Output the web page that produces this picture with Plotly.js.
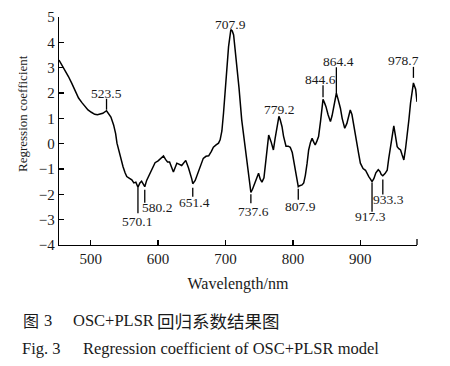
<!DOCTYPE html>
<html>
<head>
<meta charset="utf-8">
<script src="https://cdn.plot.ly/plotly-3.0.1.min.js"></script>
<style>
html,body{margin:0;padding:0;background:#fff;}
#chart{width:450px;height:366px;}
</style>
</head>
<body>
<div id="chart"></div>
<script>
// ---- data ----
var wavelength = [453,457,462,467,472,477,482,487,492,496,501,506,510,514,518,523.5,527,530,534,537,539,543.5,548,551,553.5,557,561,564,567,570.1,573,575.5,578,580.2,583,586,590,595.5,600,605,608,611,614,617,622.7,627.8,631,635,641,645,650,651.4,655,660,667,671,675,679,682,686,689.6,692,694.6,697,699.6,702,704.5,707.9,710,712,714.5,717,720,724,728,732,735,737.6,740,744,746,749,751.5,754,757,759,762,764,767.5,771,773.5,776,779.2,781,783.8,786,789.7,793,796,799,801,804,807.9,810,813.5,816,818.4,821,823.3,826,828.4,831,833,835.5,838,841,844.6,847,849,852,855.6,858,860.5,862.5,864.4,867,870.4,873,876.8,880,883,885,887.5,890,892.5,895,897.5,900,904,907.6,910,912.5,915,917.3,920,923,926.5,929,931,933.3,936.5,939.8,942,944.7,947,949.6,951.5,954.6,957,959.6,962,964.5,967,969.5,972,974.4,976.5,978.7,980,982,984];
var coefficient = [3.30,3.12,2.88,2.65,2.38,2.08,1.80,1.62,1.45,1.33,1.24,1.16,1.14,1.16,1.20,1.30,1.15,1.05,0.74,0.40,0.02,-0.51,-0.91,-1.15,-1.30,-1.36,-1.43,-1.55,-1.52,-1.72,-1.55,-1.48,-1.60,-1.70,-1.45,-1.28,-1.10,-0.75,-0.68,-0.54,-0.48,-0.62,-0.72,-0.72,-1.12,-0.77,-0.80,-0.86,-0.66,-0.95,-1.40,-1.58,-1.45,-1.10,-0.58,-0.50,-0.48,-0.30,-0.14,-0.05,0.02,0.15,0.50,1.20,2.20,3.10,3.83,4.50,4.45,4.29,3.70,3.04,2.20,0.94,0.10,-0.64,-1.30,-1.92,-1.80,-1.50,-1.35,-1.17,-1.40,-1.52,-1.35,-0.90,-0.10,0.34,0.08,-0.25,0.20,0.54,1.08,0.95,0.67,0.30,-0.10,-0.10,-0.14,-0.35,-0.64,-1.20,-1.70,-1.66,-1.63,-1.55,-1.25,-0.77,-0.25,0.05,0.21,0.05,-0.05,0.10,0.28,0.90,1.75,1.60,1.46,1.15,0.87,1.10,1.40,1.70,1.99,1.75,1.40,1.00,0.61,0.80,1.20,1.33,1.15,0.80,0.40,0.02,-0.40,-0.77,-0.98,-1.05,-1.20,-1.30,-1.40,-1.50,-1.38,-1.15,-1.03,-1.10,-1.22,-1.27,-1.18,-1.05,-0.60,-0.15,0.40,0.70,0.40,-0.12,-0.20,-0.25,-0.45,-0.64,-0.20,0.28,0.95,1.60,2.05,2.40,2.30,2.15,1.65];

var peakLabels = ["523.5","570.1","580.2","651.4","707.9","737.6","779.2","807.9","844.6","864.4","917.3","933.3","978.7"];
var peakWavelength = [523.5,570.1,580.2,651.4,707.9,737.6,779.2,807.9,844.6,864.4,917.3,933.3,978.7];
var peakCoefficient = [1.30,-1.72,-1.70,-1.58,4.50,-1.92,1.08,-1.70,1.75,1.99,-1.50,-1.30,2.40];

var xTicks = [500,600,700,800,900];
var yTicks = [-4,-3,-2,-1,0,1,2,3,4,5];

// ---- label placement (pixels): [line start, line end, text dx, text dy] ; positive = up ----
var labelStyle = [
  [1,12,0,17],
  [0,-26,-1,-34],
  [-3,-16,12,-21],
  [-4,-13,2,-19],
  [0,0,0,5],
  [-2,-11,2.5,-19.5],
  [0,0,0,7],
  [-2,-13,2,-20],
  [2,14,-3,20],
  [0,26,2,32],
  [-1,-30,-2,-35],
  [-3,-18,5.5,-22.5],
  [5,16,-10,22]
];

var serif = "Liberation Serif";
var cjk = "Noto Sans CJK SC";
var ink = '#1a1a1a';

var trace = {
  x: wavelength, y: coefficient, type: 'scatter', mode: 'lines',
  line: {color: '#000', width: 1.5}, hoverinfo: 'skip'
};

var annotations = [];
var shapes = [];
for (var i = 0; i < peakLabels.length; i++) {
  var s = labelStyle[i];
  annotations.push({
    x: peakWavelength[i], y: peakCoefficient[i], xref: 'x', yref: 'y',
    text: peakLabels[i], showarrow: false, xshift: s[2], yshift: s[3],
    font: {family: serif, size: 13.5, color: ink}
  });
  if (s[0] !== s[1]) {
    shapes.push({
      type: 'line', xref: 'x', yref: 'y', ysizemode: 'pixel',
      yanchor: peakCoefficient[i], x0: peakWavelength[i], x1: peakWavelength[i],
      y0: s[0], y1: s[1], line: {color: '#000', width: 1.3}
    });
  }
}
// end tick at right end of the x axis
shapes.push({type: 'line', xref: 'paper', yref: 'paper', ysizemode: 'pixel', yanchor: 0,
  x0: 1, x1: 1, y0: 0, y1: 6, line: {color: '#000', width: 1.3}});

// y-axis title
annotations.push({
  xref: 'paper', yref: 'paper', x: -0.104, y: 0.578, text: 'Regression coefficient',
  textangle: -90, showarrow: false, xanchor: 'center', yanchor: 'middle',
  font: {family: serif, size: 13, color: ink}
});
// captions
annotations.push({xref: 'paper', yref: 'paper', x: -0.107, y: -0.329, xanchor: 'left', yanchor: 'middle',
  text: '图', showarrow: false, font: {family: cjk, size: 16, color: ink}});
annotations.push({xref: 'paper', yref: 'paper', x: -0.048, y: -0.329, xanchor: 'left', yanchor: 'middle',
  text: '3', showarrow: false, font: {family: serif, size: 16.5, color: ink}});
annotations.push({xref: 'paper', yref: 'paper', x: 0.0335, y: -0.329, xanchor: 'left', yanchor: 'middle',
  text: 'OSC+PLSR', showarrow: false, font: {family: serif, size: 16.5, color: ink}});
annotations.push({xref: 'paper', yref: 'paper', x: 0.269, y: -0.329, xanchor: 'left', yanchor: 'middle',
  text: '回归系数结果图', showarrow: false, font: {family: cjk, size: 17.5, color: ink}});
annotations.push({xref: 'paper', yref: 'paper', x: -0.109, y: -0.452, xanchor: 'left', yanchor: 'middle',
  text: 'Fig. 3', showarrow: false, font: {family: serif, size: 16.5, color: ink}});
annotations.push({xref: 'paper', yref: 'paper', x: 0.061, y: -0.452, xanchor: 'left', yanchor: 'middle',
  text: 'Regression coefficient of OSC+PLSR model', showarrow: false, font: {family: serif, size: 16.5, color: ink}});

var layout = {
  width: 450, height: 366,
  margin: {l: 59, r: 33, t: 17, b: 121},
  paper_bgcolor: '#fff', plot_bgcolor: '#fff',
  showlegend: false,
  font: {family: serif, color: ink},
  xaxis: {
    range: [453, 984], tickvals: xTicks, ticks: 'inside', ticklen: 5, tickwidth: 1.3, tickcolor: '#000',
    showline: true, linecolor: '#000', linewidth: 1.3, showgrid: false, zeroline: false,
    tickfont: {family: serif, size: 15, color: ink},
    title: {text: 'Wavelength/nm', font: {family: serif, size: 16, color: ink}, standoff: 11}
  },
  yaxis: {
    range: [-4, 5], tickvals: yTicks, ticks: 'inside', ticklen: 5, tickwidth: 1.3, tickcolor: '#000',
    showline: true, linecolor: '#000', linewidth: 1.3, showgrid: false, zeroline: false,
    tickfont: {family: serif, size: 15, color: ink}
  },
  annotations: annotations,
  shapes: shapes
};

Plotly.newPlot('chart', [trace], layout, {displayModeBar: false, staticPlot: true});
</script>
</body>
</html>
